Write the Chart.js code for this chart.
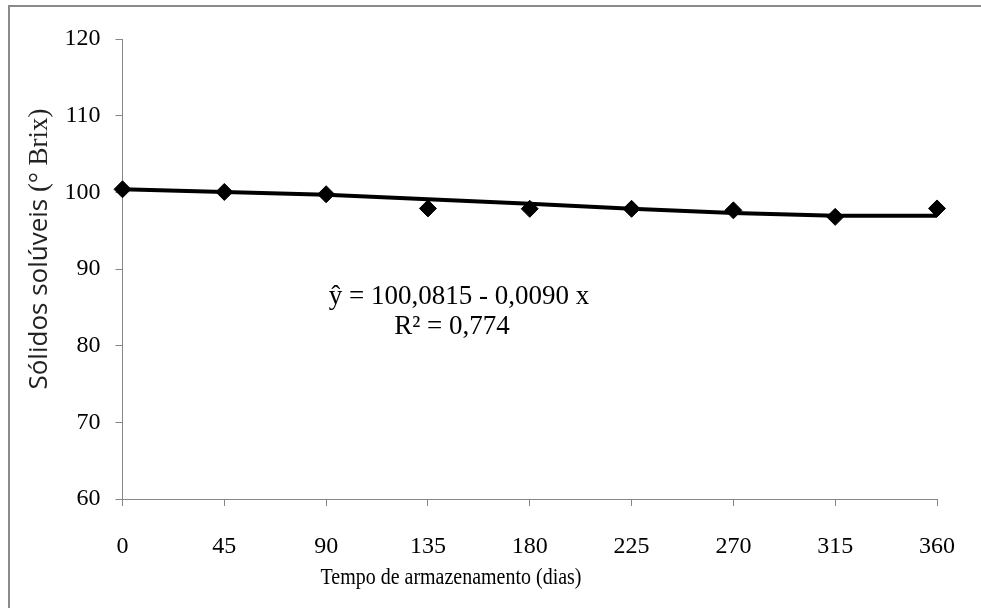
<!DOCTYPE html>
<html lang="pt">
<head>
<meta charset="UTF-8">
<title>Sólidos solúveis</title>
<script src="https://cdn.jsdelivr.net/npm/chart.js"></script>
<style>
  html, body { margin: 0; padding: 0; background: #fff; overflow: hidden; }
  #frame { position: absolute; left: 8px; top: 5px; width: 1200px; height: 800px; border: 2px solid #8a8a8a; }
  #wrap { position: absolute; left: 0; top: 0; width: 981px; height: 608px; }
</style>
</head>
<body>
<div id="frame"></div>
<div id="wrap"><canvas id="grafico" width="981" height="608"></canvas></div>
<script>
// dias de armazenamento e valores
const dias = [0, 45, 90, 135, 180, 225, 270, 315, 360];
const solidos = [100.4, 100.05, 99.75, 97.9, 97.85, 97.85, 97.65, 96.8, 97.9];
const ajuste = [100.4, 100.05, 99.7, 99.1, 98.5, 97.85, 97.3, 96.95, 96.95];
const equacao = ['ŷ = 100,0815 - 0,0090 x', 'R² = 0,774'];
const tituloY = ['Sólidos solúveis ', '(° Brix)'];
const tituloX = 'Tempo de armazenamento (dias)';

const serif = '"Liberation Serif", "Times New Roman", serif';
const sans = '"Open Sans", "Noto Sans", sans-serif';

const textos = {
  id: 'textos',
  afterDraw(chart) {
    const ctx = chart.ctx;
    ctx.save();
    ctx.fillStyle = '#000';
    ctx.textAlign = 'center';
    ctx.textBaseline = 'middle';

    // equação da regressão
    ctx.font = '27px ' + serif;
    ctx.fillText(equacao[0], 459, 297);
    ctx.fillText(equacao[1], 452, 327);

    // título do eixo x (um pouco condensado, como no original)
    ctx.save();
    ctx.translate(451, 578);
    ctx.scale(0.85, 1);
    ctx.font = '23.5px ' + serif;
    ctx.fillText(tituloX, 0, 0);
    ctx.restore();

    // título do eixo y (duas fontes)
    ctx.translate(40, 249);
    ctx.rotate(-Math.PI / 2);
    ctx.textAlign = 'left';
    ctx.font = '26px ' + sans;
    const w1 = ctx.measureText(tituloY[0]).width;
    ctx.font = '27px ' + serif;
    const w2 = ctx.measureText(tituloY[1]).width;
    const x = -(w1 + w2) / 2;
    ctx.fillStyle = '#222';
    ctx.font = '26px ' + sans;
    ctx.fillText(tituloY[0], x, 0);
    ctx.font = '27px ' + serif;
    ctx.fillText(tituloY[1], x + w1, 0);
    ctx.restore();
  }
};

new Chart(document.getElementById('grafico'), {
  type: 'scatter',
  data: {
    datasets: [
      {
        label: 'Observado',
        data: dias.map((d, i) => ({ x: d, y: solidos[i] })),
        pointStyle: 'rectRot',
        pointRadius: 8.5,
        backgroundColor: '#000',
        borderColor: '#000',
        borderWidth: 1,
        showLine: false,
        clip: false
      },
      {
        label: 'Ajuste',
        data: dias.map((d, i) => ({ x: d, y: ajuste[i] })),
        showLine: true,
        borderColor: '#000',
        borderWidth: 4,
        pointRadius: 0,
        clip: false
      }
    ]
  },
  plugins: [textos],
  options: {
    responsive: false,
    animation: false,
    layout: { padding: { top: 39, right: 43.5, bottom: 16.8, left: 0 } },
    plugins: { legend: { display: false }, tooltip: { enabled: false } },
    scales: {
      x: {
        type: 'linear',
        min: 0,
        max: 360,
        border: { color: '#868686', width: 1 },
        grid: { display: true, drawOnChartArea: false, drawTicks: true, tickLength: 7, color: '#868686' },
        ticks: { stepSize: 45, padding: 26, color: '#000', font: { family: serif, size: 24 }, maxRotation: 0 },
        afterFit(scale) { scale.height = 92.2; }
      },
      y: {
        min: 60,
        max: 120,
        border: { color: '#868686', width: 1 },
        grid: { display: true, drawOnChartArea: false, drawTicks: true, tickLength: 7, color: '#868686' },
        ticks: { stepSize: 10, padding: 15, color: '#000', font: { family: serif, size: 24 } },
        afterFit(scale) { scale.width = 122.5; }
      }
    }
  }
});
</script>
</body>
</html>
